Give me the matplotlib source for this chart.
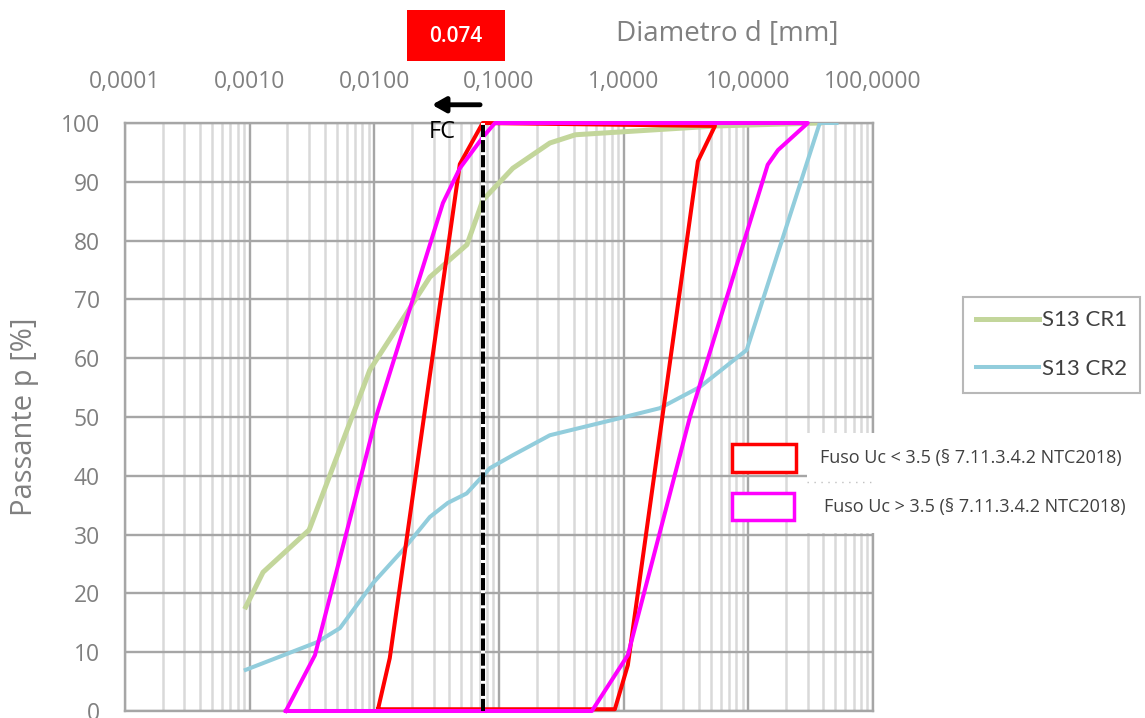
import numpy as np
import matplotlib.pyplot as plt
from matplotlib.lines import Line2D
from matplotlib.patches import Rectangle
from matplotlib.ticker import LogLocator, NullFormatter

plt.rcParams['font.family'] = ['Open Sans', 'DejaVu Sans']

# Granulometric curves (diameter in mm, passing in %)
cr1_d = [0.00093, 0.00128, 0.0030, 0.0092, 0.0279, 0.0553, 0.0743, 0.129, 0.256, 0.41, 5.6, 37.5]
cr1_p = [17.7, 23.6, 30.8, 58.0, 73.8, 79.3, 86.9, 92.3, 96.6, 98.0, 99.5, 100]

cr2_d = [0.00093, 0.00347, 0.0053, 0.0098, 0.017, 0.0279, 0.0389, 0.055, 0.0845,
         0.129, 0.256, 0.93, 1.95, 4.08, 9.7, 37.4, 51.0]
cr2_p = [7.0, 11.7, 14.1, 21.8, 27.4, 33.0, 35.4, 37.0, 41.3,
         43.5, 46.9, 49.8, 51.5, 55.1, 61.4, 100, 100]

# Fuso Uc < 3.5 (closed outline)
fuso1_d = [0.0107, 0.0133, 0.0485, 0.074, 5.4, 3.94, 1.08, 0.85, 0.0107]
fuso1_p = [0.3, 9.0, 93.0, 100, 99.5, 93.5, 7.8, 0.3, 0.3]

# Fuso Uc > 3.5 (closed outline)
fuso2_d = [0.00195, 0.00334, 0.0105, 0.0355, 0.0485, 0.0743, 0.0927,
           30.0, 17.3, 14.3, 3.4, 1.08, 0.556, 0.00195]
fuso2_p = [0, 9.5, 50.5, 86.4, 92.3, 97.6, 100,
           100, 95.4, 92.9, 50.0, 9.5, 0, 0]

fc_d = 0.074

x_ticks = [0.0001, 0.001, 0.01, 0.1, 1, 10, 100]
x_labels = ['0,0001', '0,0010', '0,0100', '0,1000', '1,0000', '10,0000', '100,0000']
y_ticks = list(range(0, 101, 10))

green = '#c3d69b'
blue = '#92cddc'
grey_txt = '#808080'

W, H = 1145, 718
fig = plt.figure(figsize=(W / 100, H / 100), dpi=100)
ax = fig.add_axes([125 / W, 7 / H, 748 / W, 588 / H])

ax.set_xscale('log')
ax.set_xlim(1e-4, 100)
ax.set_ylim(0, 100)

ax.xaxis.tick_top()
ax.set_xticks(x_ticks)
ax.set_xticklabels(x_labels)
ax.xaxis.set_minor_locator(LogLocator(base=10, subs=np.arange(2, 10)))
ax.xaxis.set_minor_formatter(NullFormatter())
ax.set_yticks(y_ticks)
ax.tick_params(axis='both', which='both', length=0, labelcolor=grey_txt, labelsize=16.5)
ax.tick_params(axis='x', pad=21)
ax.tick_params(axis='y', pad=18)

ax.grid(True, which='minor', axis='x', color='#d9d9d9', lw=1.8)
ax.grid(True, which='major', axis='both', color='#a6a6a6', lw=1.7)
ax.set_axisbelow(True)
for s in ax.spines.values():
    s.set_color('#a6a6a6')
    s.set_linewidth(1.7)

# curves
ax.plot(cr1_d, cr1_p, color=green, lw=3.6, solid_joinstyle='round', label='S13 CR1', zorder=3)
ax.plot(cr2_d, cr2_p, color=blue, lw=2.9, solid_joinstyle='round', label='S13 CR2', zorder=3)
ax.plot(fuso1_d, fuso1_p, color='red', lw=2.9, clip_on=False, zorder=4)
ax.plot(fuso2_d, fuso2_p, color='magenta', lw=2.9, clip_on=False, zorder=4)

# FC line at 0.074 mm
ax.plot([fc_d, fc_d], [0, 100], color='white', lw=2.9, zorder=5)
ax.plot([fc_d, fc_d], [0, 100], color='black', lw=2.9, dashes=(3, 0.75), zorder=6)
ax.annotate('', xy=(0.029, 103.1), xytext=(0.0705, 103.1), xycoords='data',
            arrowprops=dict(arrowstyle='-|>,head_length=0.8,head_width=0.45', color='black',
                            lw=3.5, shrinkA=0, shrinkB=0), annotation_clip=False)
ax.text(0.0348, 98.4, 'FC', fontsize=17, color='black', ha='center', va='center', zorder=7)

# red label box
fig.patches.append(Rectangle((407 / W, 1 - 61 / H), 98 / W, 51 / H, transform=fig.transFigure,
                             facecolor='red', edgecolor='none'))
fig.text(456 / W, 1 - 36 / H, '0.074', color='white', fontsize=15, fontweight='semibold',
         ha='center', va='center')

# axis titles
fig.text(727 / W, 1 - 34 / H, 'Diametro d [mm]', color=grey_txt, fontsize=20, ha='center', va='center')
fig.text(25 / W, 1 - 417 / H, 'Passante p [%]', color=grey_txt, fontsize=21, rotation=90,
         ha='center', va='center')

# legend for the sample curves
leg = ax.legend(loc='upper left', bbox_to_anchor=(963 / W, 1 - 297 / H), bbox_transform=fig.transFigure,
                frameon=True, fancybox=False, borderaxespad=0, prop={'family': 'Lato', 'size': 16},
                handlelength=2.8, handletextpad=0.15, labelspacing=1.3, borderpad=0.6)
leg.get_frame().set_edgecolor('#a6a6a6')
leg.get_frame().set_linewidth(1.5)
for t in leg.get_texts():
    t.set_color('#404040')

# legend for the fuso envelopes
fig.patches.append(Rectangle((807 / W, 1 - 533 / H), 328 / W, 100 / H, transform=fig.transFigure,
                             facecolor='white', edgecolor='none'))
fig.patches.append(Rectangle((732 / W, 1 - 472 / H), 64 / W, 28 / H, transform=fig.transFigure,
                             facecolor='white', edgecolor='red', lw=2.5))
fig.patches.append(Rectangle((732 / W, 1 - 520 / H), 62 / W, 27 / H, transform=fig.transFigure,
                             facecolor='white', edgecolor='magenta', lw=2.5))
fig.lines.append(Line2D([807 / W, 872 / W], [1 - 482 / H, 1 - 482 / H], transform=fig.transFigure,
                        color='#c0c0c0', lw=1, ls=(0, (1, 4))))
fig.text(820 / W, 1 - 458 / H, 'Fuso Uc < 3.5 (§ 7.11.3.4.2 NTC2018)', color='#404040', fontsize=13,
         ha='left', va='center')
fig.text(824 / W, 1 - 507 / H, 'Fuso Uc > 3.5 (§ 7.11.3.4.2 NTC2018)', color='#404040', fontsize=13,
         ha='left', va='center')

fig.savefig('out.png', dpi=100)
